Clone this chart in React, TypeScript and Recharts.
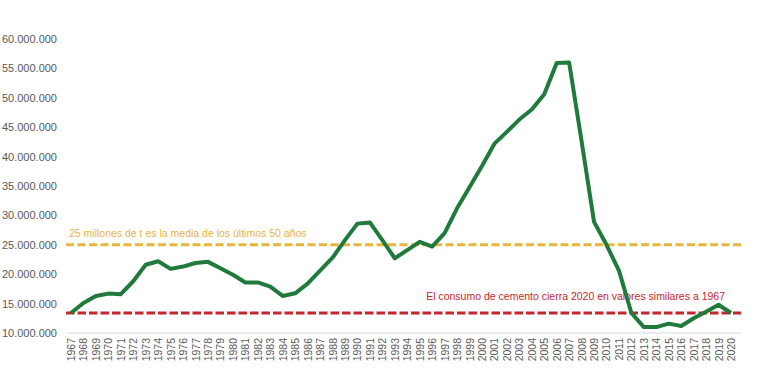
import React from 'react';
import { LineChart, Line, XAxis, YAxis, ReferenceLine } from 'recharts';

const years: number[] = [
  1967, 1968, 1969, 1970, 1971, 1972, 1973, 1974, 1975, 1976,
  1977, 1978, 1979, 1980, 1981, 1982, 1983, 1984, 1985, 1986,
  1987, 1988, 1989, 1990, 1991, 1992, 1993, 1994, 1995, 1996,
  1997, 1998, 1999, 2000, 2001, 2002, 2003, 2004, 2005, 2006,
  2007, 2008, 2009, 2010, 2011, 2012, 2013, 2014, 2015, 2016,
  2017, 2018, 2019, 2020,
];

const consumo: number[] = [
  13.4, 15.1, 16.3, 16.7, 16.6, 18.8, 21.6, 22.2, 20.9, 21.3,
  21.9, 22.1, 21.0, 19.9, 18.6, 18.6, 17.9, 16.3, 16.75, 18.4,
  20.6, 22.8, 25.8, 28.6, 28.8, 25.8, 22.7, 24.1, 25.5, 24.7,
  27.0, 31.2, 34.8, 38.4, 42.2, 44.2, 46.3, 48.0, 50.6, 55.9,
  56.0, 42.6, 28.9, 25.0, 20.6, 13.4, 11.0, 11.0, 11.6, 11.2,
  12.5, 13.6, 14.8, 13.4,
].map((v) => v * 1e6);

const yTicks: number[] = [10e6, 15e6, 20e6, 25e6, 30e6, 35e6, 40e6, 45e6, 50e6, 55e6, 60e6];

const mediaValue = 25e6;
const valor1967 = 13.4e6;
const mediaText = '25 millones de t es la media de los últimos 50 años';
const cierreText = 'El consumo de cemento cierra 2020 en valores similares a 1967';

const data = years.map((y, i) => ({ year: y, value: consumo[i] }));

const fmt = (v: number) => String(Math.round(v)).replace(/\B(?=(\d{3})+(?!\d))/g, '.');

const FONT = '"Liberation Sans", Arial, sans-serif';

const XTick = (props: any) => {
  const { x, y, payload } = props;
  const ty = y - 3;
  return (
    <text
      x={x}
      y={ty}
      transform={`rotate(-90, ${x}, ${ty})`}
      textAnchor="end"
      dominantBaseline="central"
      fontSize={10.5}
      fill="#595959"
      fontFamily={FONT}
    >
      {payload.value}
    </text>
  );
};

const YTick = (props: any) => {
  const { x, y, payload } = props;
  return (
    <text
      x={x - 1}
      y={y}
      textAnchor="end"
      dominantBaseline="central"
      fontSize={11}
      fill="#595959"
      fontFamily={FONT}
    >
      {fmt(payload.value)}
    </text>
  );
};

const MediaLabel = (props: any) => {
  const { viewBox } = props;
  return (
    <text
      x={viewBox.x + 3}
      y={viewBox.y - 8}
      fontSize={10.5}
      fill="#E9B43C"
      fontFamily={FONT}
    >
      {mediaText}
    </text>
  );
};

const CierreLabel = (props: any) => {
  const { viewBox } = props;
  return (
    <text
      x={viewBox.x + viewBox.width - 16}
      y={viewBox.y - 13}
      textAnchor="end"
      fontSize={10.5}
      fill="#C3272B"
      fontFamily={FONT}
    >
      {cierreText}
    </text>
  );
};

export default function App() {
  return (
    <div style={{ position: 'absolute', left: 0, top: 0, width: 765, height: 392, background: '#fff' }}>
      <LineChart
        width={765}
        height={392}
        data={data}
        margin={{ top: 39, right: 24, bottom: 0, left: 0 }}
      >
        <XAxis
          dataKey="year"
          type="number"
          domain={[1966.6, 2020.8]}
          ticks={years}
          interval={0}
          height={59}
          tickLine={false}
          axisLine={{ stroke: '#D9D9D9', strokeWidth: 1 }}
          tick={<XTick />}
          allowDataOverflow
        />
        <YAxis
          type="number"
          domain={[10e6, 60e6]}
          ticks={yTicks}
          width={66}
          tickLine={false}
          axisLine={false}
          tick={<YTick />}
          allowDataOverflow
        />
        <ReferenceLine
          y={mediaValue}
          stroke="#E9B43C"
          strokeWidth={3}
          strokeDasharray="8 3.5"
          label={<MediaLabel />}
        />
        <ReferenceLine
          y={valor1967}
          stroke="#C3272B"
          strokeWidth={3}
          strokeDasharray="8.5 3"
          label={<CierreLabel />}
        />
        <Line
          type="linear"
          dataKey="value"
          stroke="#1F7A3C"
          strokeWidth={4}
          dot={false}
          isAnimationActive={false}
          strokeLinejoin="round"
        />
      </LineChart>
    </div>
  );
}
